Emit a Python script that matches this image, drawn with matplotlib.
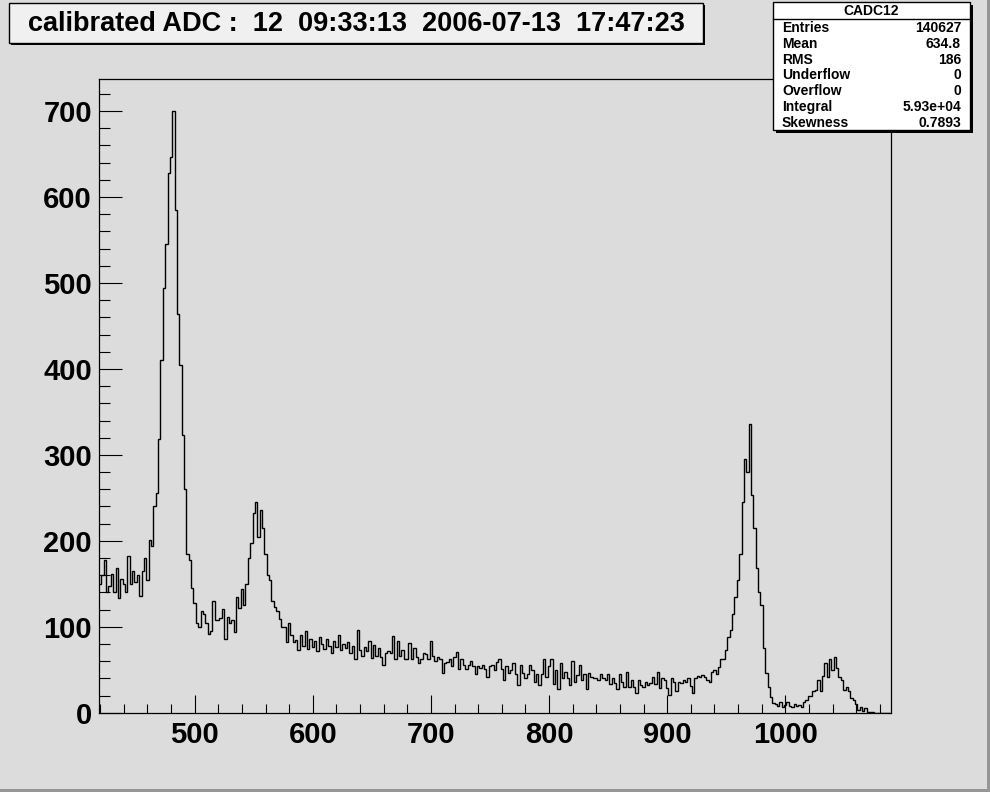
import numpy as np
import matplotlib
matplotlib.use('Agg')
import matplotlib.pyplot as plt
from matplotlib.patches import Rectangle
from matplotlib.lines import Line2D
from matplotlib.ticker import MultipleLocator

# ---------------- data ----------------
bin_start = 419
bin_width = 2

counts_420_498 = [150, 160, 178, 141, 148, 162, 140, 168, 133, 156,
                  150, 140, 182, 150, 165, 152, 160, 136, 165, 180,
                  155, 201, 194, 240, 256, 318, 410, 494, 545, 628,
                  647, 700, 585, 464, 405, 323, 260, 185, 178, 145]
counts_500_598 = [128, 105, 100, 118, 115, 105, 92, 95, 130, 108,
                  108, 110, 121, 86, 112, 105, 108, 94, 135, 122,
                  144, 125, 150, 180, 197, 232, 245, 205, 236, 215,
                  185, 160, 155, 130, 123, 118, 109, 100, 100, 82,
                  104, 90, 82, 85, 73, 90, 78, 95, 74, 86]
counts_600_698 = [76, 84, 72, 88, 80, 74, 86, 78, 70, 84,
                  76, 90, 73, 80, 75, 82, 70, 78, 62, 96,
                  73, 66, 77, 72, 84, 64, 79, 66, 75, 65,
                  56, 70, 72, 70, 89, 62, 83, 66, 73, 63,
                  62, 81, 62, 75, 65, 58, 62, 69, 68, 62]
counts_700_798 = [83, 66, 60, 65, 63, 46, 58, 59, 62, 54,
                  65, 71, 51, 62, 56, 51, 56, 60, 54, 45,
                  54, 52, 56, 51, 42, 54, 56, 50, 59, 62,
                  51, 38, 54, 46, 50, 58, 45, 32, 56, 46,
                  40, 45, 56, 50, 36, 45, 32, 45, 62, 42]
counts_800_898 = [54, 63, 34, 50, 28, 58, 40, 48, 40, 32,
                  60, 36, 44, 56, 38, 45, 28, 46, 42, 40,
                  40, 38, 45, 40, 38, 45, 34, 40, 35, 28,
                  45, 36, 30, 48, 30, 38, 30, 23, 38, 32,
                  30, 36, 32, 35, 42, 34, 48, 29, 40, 38]
counts_900_998 = [29, 21, 40, 36, 25, 36, 35, 38, 36, 40,
                  31, 23, 40, 43, 42, 44, 42, 38, 36, 48,
                  50, 45, 53, 63, 62, 73, 88, 96, 115, 135,
                  155, 185, 245, 295, 280, 336, 253, 215, 168, 140,
                  125, 75, 46, 30, 18, 11, 10, 8, 12, 7]
counts_1000_1088 = [9, 12, 8, 7, 10, 8, 9, 7, 13, 15,
                    19, 20, 25, 27, 38, 25, 43, 58, 42, 63,
                    50, 65, 52, 42, 38, 27, 30, 25, 17, 15,
                    10, 3, 7, 2, 6, 1, 1, 1, 0, 0,
                    0, 0, 0, 0, 0]

x_range = (419, 1089.5)
y_range = (0, 737)
x_major = 100
x_minor = 20
y_major = 100
y_minor = 20

title_text = 'calibrated ADC :  12  09:33:13  2006-07-13  17:47:23'
hist_name = 'CADC12'
stats_labels = ['Entries', 'Mean', 'RMS', 'Underflow', 'Overflow', 'Integral', 'Skewness']
stats_values = ['140627', '634.8', '186', '0', '0', '5.93e+04', '0.7893']

# ---------------- figure ----------------
counts = np.array(counts_420_498 + counts_500_598 + counts_600_698 + counts_700_798
                  + counts_800_898 + counts_900_998 + counts_1000_1088, dtype=float)
edges = bin_start + bin_width * np.arange(len(counts) + 1)

W, H = 990, 792
BG = '#dcdcdc'
FONT = 'Liberation Sans'

fig = plt.figure(figsize=(W / 100, H / 100), dpi=100, facecolor=BG)
ax = fig.add_axes([0.1, 0.1, 0.8, 0.8], facecolor=BG)

ax.stairs(counts, edges, color='black', linewidth=1.0, baseline=None)

ax.set_xlim(*x_range)
ax.set_ylim(*y_range)
ax.xaxis.set_major_locator(MultipleLocator(x_major))
ax.xaxis.set_minor_locator(MultipleLocator(x_minor))
ax.yaxis.set_major_locator(MultipleLocator(y_major))
ax.yaxis.set_minor_locator(MultipleLocator(y_minor))

ax.tick_params(axis='x', which='major', direction='in', length=13, width=0.8,
               top=False, pad=6)
ax.tick_params(axis='x', which='minor', direction='in', length=6.5, width=0.8, top=False)
ax.tick_params(axis='y', which='major', direction='in', length=16.5, width=0.8,
               right=False, pad=5)
ax.tick_params(axis='y', which='minor', direction='in', length=8, width=0.8, right=False)
for lab in ax.get_xticklabels():
    lab.set_fontfamily(FONT)
    lab.set_fontweight('bold')
    lab.set_fontsize(21)
for lab in ax.get_yticklabels():
    lab.set_fontfamily(FONT)
    lab.set_fontweight('bold')
    lab.set_fontsize(21)
for sp in ax.spines.values():
    sp.set_linewidth(0.9)
    sp.set_color('black')


def fx(px):
    return px / W


def fy(py):
    return 1 - py / H


def box(x0, y0, x1, y1, face, shadow=2, z=5):
    fig.add_artist(Rectangle((fx(x0 + shadow), fy(y1 + shadow)), fx(x1 - x0), (y1 - y0) / H,
                             transform=fig.transFigure, facecolor='black',
                             edgecolor='black', linewidth=0, zorder=z))
    fig.add_artist(Rectangle((fx(x0), fy(y1)), fx(x1 - x0), (y1 - y0) / H,
                             transform=fig.transFigure, facecolor=face,
                             edgecolor='black', linewidth=1.0, zorder=z + 0.1))


# title box
box(9, 3, 703, 43, '#f0f0f0', shadow=2)
fig.text(fx(356), fy(24), title_text, ha='center', va='center',
         fontfamily=FONT, fontweight='bold', fontsize=19.5, zorder=7)

# stats box
box(773, 2, 970, 130, 'white', shadow=3)
fig.add_artist(Line2D([fx(773), fx(970)], [fy(19), fy(19)], transform=fig.transFigure,
                      color='black', linewidth=1.0, zorder=6))
fig.text(fx(871), fy(11), hist_name, ha='center', va='center',
         fontfamily=FONT, fontweight='bold', fontsize=10, zorder=7)
row_y0, row_dy = 28, 15.8
for i, (lab, val) in enumerate(zip(stats_labels, stats_values)):
    yy = row_y0 + i * row_dy
    fig.text(fx(782), fy(yy), lab, ha='left', va='center',
             fontfamily=FONT, fontweight='bold', fontsize=10, zorder=7)
    fig.text(fx(961), fy(yy), val, ha='right', va='center',
             fontfamily=FONT, fontweight='bold', fontsize=10, zorder=7)

# canvas bevel on right and bottom
fig.add_artist(Rectangle((fx(987), 0), fx(3), 1, transform=fig.transFigure,
                         facecolor='#969696', edgecolor='none', zorder=8))
fig.add_artist(Rectangle((0, 0), 1, 3 / H, transform=fig.transFigure,
                         facecolor='#969696', edgecolor='none', zorder=8))

fig.savefig('out.png', dpi=100, facecolor=BG)
